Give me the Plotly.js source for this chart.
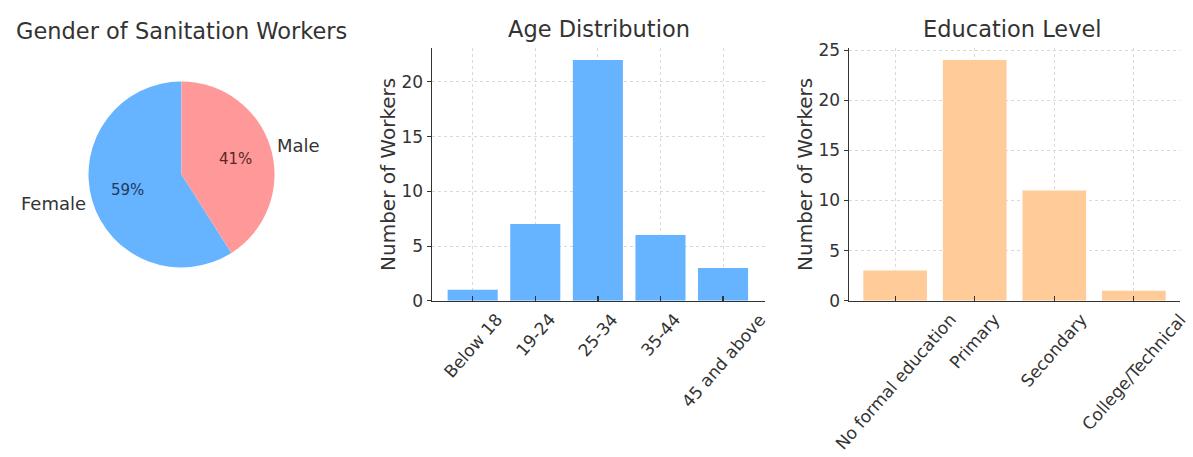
<!DOCTYPE html>
<html><head><meta charset="utf-8">
<script src="https://cdn.plot.ly/plotly-3.0.1.min.js"></script>
<style>html,body{margin:0;padding:0;background:#fff}#chart{width:1193px;height:457px}</style>
</head><body><div id="chart"></div>
<script>
const genderLabels = ['Female', 'Male'];
const genderValues = [59, 41];
const genderColors = ['#66b3ff', '#ff9999'];
const genderPctColors = ['#1f3a5e', '#5a2626'];

const ageCategories = ['Below 18', '19-24', '25-34', '35-44', '45 and above'];
const ageCounts = [1, 7, 22, 6, 3];
const ageTicks = [0, 5, 10, 15, 20];

const eduCategories = ['No formal education', 'Primary', 'Secondary', 'College/Technical'];
const eduCounts = [3, 24, 11, 1];
const eduTicks = [0, 5, 10, 15, 20, 25];

const titles = ['Gender of Sanitation Workers', 'Age Distribution', 'Education Level'];
const yTitle = 'Number of Workers';

const W = 1193, H = 457;
const FONT = 'DejaVu Sans, sans-serif';
const TXT = '#333333';

// pie geometry (px)
const pcx = 181.5, pcy = 174.5, pr = 93;
const total = genderValues.reduce((a, b) => a + b, 0);
// first slice starts at 12 o'clock and runs counterclockwise (matplotlib startangle=90)
const pieRotation = 360 * (total - genderValues[0]) / total;

const data = [
  {
    type: 'pie', labels: genderLabels, values: genderValues, sort: false,
    direction: 'counterclockwise', rotation: pieRotation,
    marker: {colors: genderColors, line: {width: 0}},
    textinfo: 'none', hoverinfo: 'label+percent', showlegend: false,
    domain: {x: [(pcx - pr) / W, (pcx + pr) / W], y: [1 - (pcy + pr) / H, 1 - (pcy - pr) / H]}
  },
  {
    type: 'bar', x: ageCategories, y: ageCounts, width: 0.8,
    marker: {color: '#66b3ff', line: {width: 0}}, xaxis: 'x', yaxis: 'y', showlegend: false
  },
  {
    type: 'bar', x: eduCategories, y: eduCounts, width: 0.8,
    marker: {color: '#ffcc99', line: {width: 0}}, xaxis: 'x2', yaxis: 'y2', showlegend: false
  }
];

const annotations = [];
// pie labels and percentages
let cum = 0;
genderValues.forEach((v, i) => {
  const mid = (90 + 360 * (cum + v / 2) / total) * Math.PI / 180;
  cum += v;
  const c = Math.cos(mid), s = Math.sin(mid);
  annotations.push({
    xref: 'paper', yref: 'paper', showarrow: false,
    x: (pcx + 0.6 * pr * c) / W, y: 1 - (pcy - 0.6 * pr * s) / H,
    xanchor: 'center', yanchor: 'middle',
    text: Math.round(100 * v / total) + '%',
    font: {family: FONT, size: 15, color: genderPctColors[i]}
  });
  annotations.push({
    xref: 'paper', yref: 'paper', showarrow: false,
    x: (pcx + 1.05 * pr * c) / W, y: 1 - (pcy - 1.1 * pr * s) / H,
    xanchor: c < 0 ? 'right' : 'left', yanchor: 'middle',
    text: genderLabels[i],
    font: {family: FONT, size: 18, color: TXT}
  });
});
// titles
[[181, 31], [599, 29], [1012, 29]].forEach((p, i) => {
  annotations.push({
    xref: 'paper', yref: 'paper', showarrow: false,
    x: p[0] / W, y: 1 - p[1] / H, xanchor: 'center', yanchor: 'middle',
    text: titles[i], font: {family: FONT, size: 22.5, color: TXT}
  });
});
// rotated category labels
const labY = 1 - 307 / H;
ageCategories.forEach(c => annotations.push({
  xref: 'x', yref: 'paper', x: c, y: labY, showarrow: false, text: c,
  textangle: -49, xanchor: 'center', yanchor: 'top',
  font: {family: FONT, size: 17, color: TXT}
}));
eduCategories.forEach(c => annotations.push({
  xref: 'x2', yref: 'paper', x: c, y: labY, showarrow: false, text: c,
  textangle: -49, xanchor: 'center', yanchor: 'top',
  font: {family: FONT, size: 17, color: TXT}
}));

const yDom = [1 - 300.7 / H, 1 - 48 / H];
const GRID = '#d9d9d9', DASH = '3px,3px';
function xAx(dom, rng) {
  return {
    domain: dom, type: 'category', range: rng,
    showgrid: true, gridcolor: GRID, griddash: DASH, gridwidth: 1,
    showline: true, linecolor: '#333', linewidth: 1.5,
    ticks: 'inside', ticklen: 5, tickcolor: '#333', tickwidth: 1.3,
    showticklabels: false, zeroline: false, fixedrange: true
  };
}
function yAx(rng, ticks) {
  return {
    domain: yDom, range: rng, tickvals: ticks, ticktext: ticks.map(String),
    showgrid: true, gridcolor: GRID, griddash: DASH, gridwidth: 1,
    showline: true, linecolor: '#333', linewidth: 1.5,
    ticks: 'outside', ticklen: 4, tickcolor: '#333',
    tickfont: {family: FONT, size: 17, color: TXT},
    title: {text: yTitle, font: {family: FONT, size: 20, color: TXT}, standoff: 0},
    zeroline: false, fixedrange: true
  };
}

const layout = {
  width: W, height: H,
  margin: {l: 0, r: 0, t: 0, b: 0},
  paper_bgcolor: '#fff', plot_bgcolor: '#fff',
  font: {family: FONT, color: TXT},
  showlegend: false, bargap: 0.2,
  xaxis: xAx([432 / W, 765 / W], [-0.65, 4.67]),
  yaxis: yAx([0, 23.1], ageTicks),
  xaxis2: xAx([849 / W, 1180 / W], [-0.58, 3.58]),
  yaxis2: Object.assign(yAx([0, 25.2], eduTicks), {anchor: 'x2'}),
  annotations: annotations
};
layout.xaxis.anchor = 'y';
layout.xaxis2.anchor = 'y2';

Plotly.newPlot('chart', data, layout, {displayModeBar: false, staticPlot: true});
</script>
</body></html>
